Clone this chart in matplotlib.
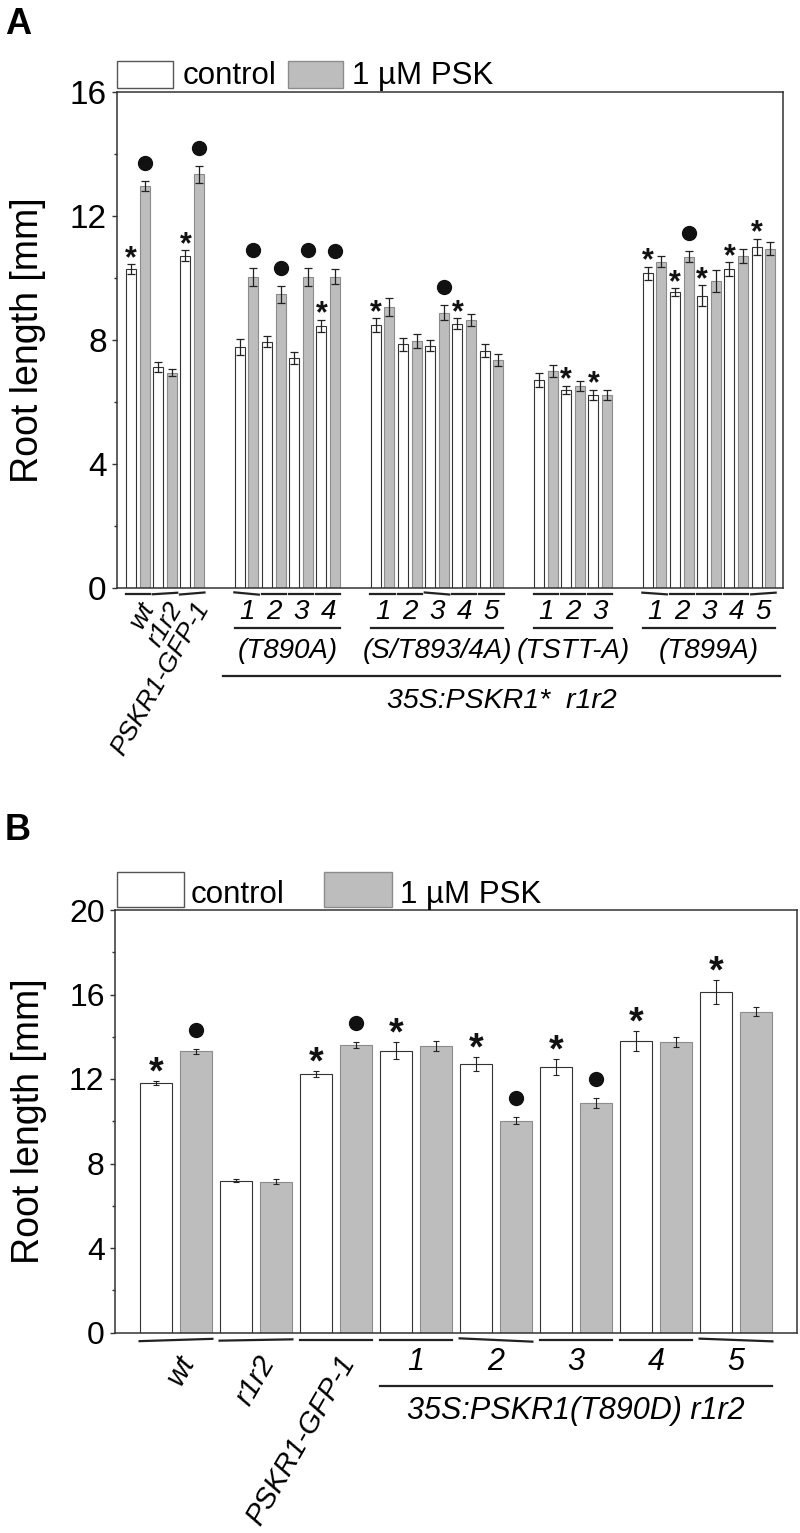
import matplotlib
matplotlib.use('Agg')
import matplotlib.pyplot as plt
import matplotlib.transforms as mtransforms
from matplotlib.patches import Rectangle

plt.rcParams['font.family'] = ['Liberation Sans', 'DejaVu Sans']

# ---------------- panel A data ----------------
pair_labels_A = ["wt", "r1r2", "PSKR1-GFP-1",
                 "1", "2", "3", "4",
                 "1", "2", "3", "4", "5",
                 "1", "2", "3",
                 "1", "2", "3", "4", "5"]
pair_group_A = [0, 0, 0, 1, 1, 1, 1, 2, 2, 2, 2, 2, 3, 3, 3, 4, 4, 4, 4, 4]
group_names_A = ["", "(T890A)", "(S/T893/4A)", "(TSTT-A)", "(T899A)"]

control_A = [10.28, 7.14, 10.72,
             7.78, 7.95, 7.43, 8.46,
             8.48, 7.86, 7.82, 8.52, 7.65,
             6.71, 6.39, 6.22,
             10.15, 9.54, 9.43, 10.28, 11.01]
control_err_A = [0.16, 0.16, 0.18,
                 0.26, 0.18, 0.19, 0.19,
                 0.22, 0.21, 0.18, 0.18, 0.21,
                 0.21, 0.13, 0.17,
                 0.22, 0.13, 0.34, 0.23, 0.26]
psk_A = [12.97, 6.95, 13.34,
         10.04, 9.47, 10.04, 10.04,
         9.07, 7.97, 8.88, 8.65, 7.35,
         7.00, 6.52, 6.23,
         10.53, 10.69, 9.91, 10.71, 10.95]
psk_err_A = [0.15, 0.11, 0.27,
             0.29, 0.28, 0.29, 0.24,
             0.29, 0.22, 0.25, 0.19, 0.19,
             0.18, 0.17, 0.16,
             0.19, 0.18, 0.35, 0.22, 0.22]
stars_A = [0, 2, 6, 7, 10, 13, 14, 15, 16, 17, 18, 19]   # on control bars
dots_A = [0, 2, 3, 4, 5, 6, 9, 16]                        # on PSK bars

# ---------------- panel B data ----------------
pair_labels_B = ["wt", "r1r2", "PSKR1-GFP-1", "1", "2", "3", "4", "5"]
control_B = [11.81, 7.19, 12.24, 13.34, 12.71, 12.57, 13.80, 16.13]
control_err_B = [0.10, 0.08, 0.14, 0.41, 0.33, 0.38, 0.49, 0.58]
psk_B = [13.31, 7.14, 13.61, 13.57, 10.02, 10.86, 13.76, 15.18]
psk_err_B = [0.13, 0.12, 0.16, 0.25, 0.17, 0.22, 0.24, 0.22]
stars_B = [0, 2, 3, 4, 5, 6, 7]
dots_B = [0, 2, 4, 5]

FIG_W, FIG_H = 800, 1533
WHITE_EDGE = '#333333'
GREY_FILL = '#bdbdbd'
GREY_EDGE = '#8c8c8c'
DARK = '#222222'

# hand-drawn look of the short lines under each pair (px, + = left end lower)
tilt_A = [0, 1.5, 2, -2.3, 0, 0, 0, 0, 0, -2, 0, 0, 0, 0, 0, -1.7, 0, 0, 0, 1.7]
tilt_B = [2.3, 1.3, 0, 0, -3.3, 0, 0, -2.7]

fig = plt.figure(figsize=(FIG_W / 100, FIG_H / 100), dpi=100)


def px_axes(l, t, r, b):
    return fig.add_axes([l / FIG_W, 1 - b / FIG_H, (r - l) / FIG_W, (b - t) / FIG_H])


def below(ax, px, dx=0):
    # x in data units, y measured in pixels under the x axis
    return (mtransforms.blended_transform_factory(ax.transData, ax.transAxes)
            + mtransforms.ScaledTranslation(dx / 100, -px / 100, fig.dpi_scale_trans))


def pair_line(ax, mid, half, px, tilt):
    # y in inches from the figure bottom
    y0 = ax.get_position().y0 * FIG_H / 100
    trans = mtransforms.blended_transform_factory(ax.transData, fig.dpi_scale_trans)
    ax.plot([mid - half, mid + half],
            [y0 - (px + tilt / 2) / 100, y0 - (px - tilt / 2) / 100],
            color=DARK, lw=1.6, clip_on=False, transform=trans)


def legend(t, b, boxes):
    for l, r, fc, ec, txt, tx in boxes:
        fig.patches.append(Rectangle((l / FIG_W, 1 - b / FIG_H), (r - l) / FIG_W, (b - t) / FIG_H,
                                     transform=fig.transFigure, facecolor=fc, edgecolor=ec, lw=1.0))
        fig.text(tx / FIG_W, 1 - (b - 4) / FIG_H, txt, fontsize=22.5, ha='left', va='baseline')


def style_axes(ax, ymax, ticksize):
    for s in ax.spines.values():
        s.set_linewidth(1.1)
        s.set_color('#333333')
    ax.set_ylim(0, ymax)
    ax.set_yticks(range(0, ymax + 1, 4))
    ax.set_yticks(range(2, ymax, 4), minor=True)
    ax.tick_params(axis='y', which='major', direction='out', length=3.4, width=1.0,
                   color='#333333', labelsize=ticksize, pad=4)
    ax.tick_params(axis='y', which='minor', direction='out', length=2.4, width=1.0, color='#333333')
    ax.set_xticks([])
    ax.set_ylabel('Root length [mm]', fontsize=27)


def draw_bars(ax, cx, px_, ctrl, cerr, psk, perr, width, cap, elw, stars, dots,
              star_size, star_off, dot_off):
    ax.bar(cx, ctrl, width, color='white', edgecolor=WHITE_EDGE, lw=0.8, zorder=2)
    ax.bar(px_, psk, width, color=GREY_FILL, edgecolor=GREY_EDGE, lw=0.8, zorder=2)
    ax.errorbar(cx, ctrl, yerr=cerr, fmt='none', ecolor=DARK, elinewidth=elw,
                capsize=cap, capthick=elw, zorder=3)
    ax.errorbar(px_, psk, yerr=perr, fmt='none', ecolor=DARK, elinewidth=elw,
                capsize=cap, capthick=elw, zorder=3)
    for i in stars:
        ax.annotate('*', (cx[i], ctrl[i] + cerr[i]), xytext=(0, star_off),
                    textcoords='offset points', ha='center', va='baseline',
                    fontsize=star_size, fontweight='bold', color='#111111')
    shift = ax.transData + mtransforms.ScaledTranslation(0, dot_off / 100, fig.dpi_scale_trans)
    ax.plot([px_[i] for i in dots], [psk[i] + perr[i] for i in dots], 'o', ms=10,
            color='#111111', transform=shift, clip_on=False, zorder=4)


# ================= panel A =================
axA = px_axes(117, 92, 783, 588)
ctrl_x_A, psk_x_A = [], []
slot, prev = 0, pair_group_A[0]
for g in pair_group_A:
    if g != prev:
        slot += 2
        prev = g
    ctrl_x_A.append(slot)
    psk_x_A.append(slot + 1)
    slot += 2

draw_bars(axA, ctrl_x_A, psk_x_A, control_A, control_err_A, psk_A, psk_err_A,
          0.735, 3.1, 0.9, stars_A, dots_A, 22, -2, 18)
axA.set_xlim(ctrl_x_A[0] - 1.03, psk_x_A[-1] + 0.94)
style_axes(axA, 16, 24)
axA.yaxis.set_label_coords(-0.106, 0.5)

for i, lab in enumerate(pair_labels_A):
    mid = (ctrl_x_A[i] + psk_x_A[i]) / 2
    pair_line(axA, mid, 0.9, 5.5, tilt_A[i])
    if pair_group_A[i] == 0:
        axA.text(mid, 0, lab, transform=below(axA, 10, 1), rotation=60,
                 rotation_mode='anchor', ha='right', va='top', fontsize=19, style='italic')
    else:
        axA.text(mid, 0, lab, transform=below(axA, 31), ha='center', va='baseline',
                 fontsize=20, style='italic')

for g in range(1, len(group_names_A)):
    idx = [i for i, gg in enumerate(pair_group_A) if gg == g]
    x0 = ctrl_x_A[idx[0]] - 0.37
    x1 = psk_x_A[idx[-1]] + 0.37
    axA.plot([x0, x1], [0, 0], color=DARK, lw=1.6, transform=below(axA, 39.5), clip_on=False)
    axA.text((x0 + x1) / 2, 0, group_names_A[g], transform=below(axA, 69.5),
             ha='center', va='baseline', fontsize=20, style='italic')

first = [i for i, gg in enumerate(pair_group_A) if gg > 0][0]
lx0 = ctrl_x_A[first] - 1.2
lx1 = psk_x_A[-1] + 0.7
axA.plot([lx0, lx1], [0, 0], color=DARK, lw=1.6, transform=below(axA, 88), clip_on=False)
axA.text((lx0 + lx1) / 2, 0, '35S:PSKR1*  r1r2', transform=below(axA, 120),
         ha='center', va='baseline', fontsize=20.5, style='italic')

legend(61, 88, [(117, 173, 'white', '#555555', 'control', 183),
                (288, 343, GREY_FILL, GREY_EDGE, '1 µM PSK', 352)])
fig.text(5 / FIG_W, 1 - 34 / FIG_H, 'A', fontsize=26, fontweight='bold', va='baseline')

# ================= panel B =================
axB = px_axes(115, 910, 797, 1332.5)
ctrl_x_B = [2 * i for i in range(len(pair_labels_B))]
psk_x_B = [2 * i + 1 for i in range(len(pair_labels_B))]
draw_bars(axB, ctrl_x_B, psk_x_B, control_B, control_err_B, psk_B, psk_err_B,
          0.8, 2.2, 0.8, stars_B, dots_B, 27, -2, 19)
axB.set_xlim(-1.025, psk_x_B[-1] + 1.025)
style_axes(axB, 20, 23)
axB.yaxis.set_label_coords(-0.1, 0.5)

for i, lab in enumerate(pair_labels_B):
    mid = (ctrl_x_B[i] + psk_x_B[i]) / 2
    pair_line(axB, mid, 0.91, 7.5, tilt_B[i])
    if i < 3:
        axB.text(mid, 0, lab, transform=below(axB, 18, 0), rotation=60,
                 rotation_mode='anchor', ha='right', va='top', fontsize=21, style='italic')
    else:
        axB.text(mid, 0, lab, transform=below(axB, 38), ha='center', va='baseline',
                 fontsize=22, style='italic')

bx0 = ctrl_x_B[3] - 0.4
bx1 = psk_x_B[-1] + 0.4
axB.plot([bx0, bx1], [0, 0], color=DARK, lw=1.6, transform=below(axB, 53), clip_on=False)
axB.text((bx0 + bx1) / 2, 0, '35S:PSKR1(T890D) r1r2', transform=below(axB, 87),
         ha='center', va='baseline', fontsize=22, style='italic')

legend(872, 907, [(117, 184, 'white', '#555555', 'control', 191),
                  (324, 392, GREY_FILL, GREY_EDGE, '1 µM PSK', 400)])
fig.text(5 / FIG_W, 1 - 840 / FIG_H, 'B', fontsize=26, fontweight='bold', va='baseline')

fig.savefig('out.png', dpi=100)
